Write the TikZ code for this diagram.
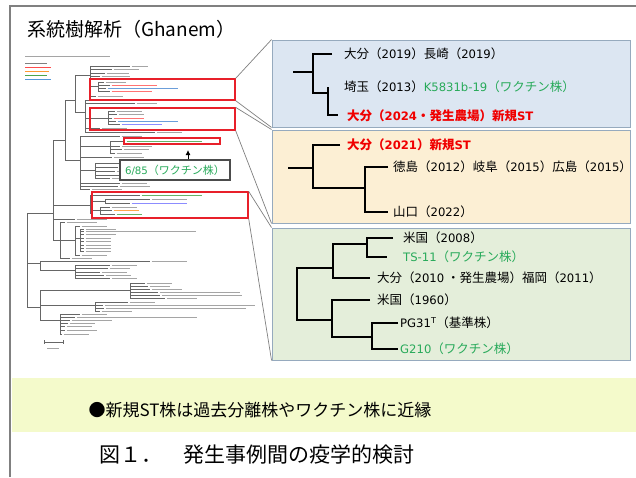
\documentclass[tikz,border=0pt]{standalone}
\usepackage{fontspec}
\setmainfont{Noto Sans CJK JP}
\newfontfamily\latfont[Scale=0.93]{DejaVu Sans}
\newcommand\ltn[1]{{\latfont #1}}
\usetikzlibrary{arrows.meta}
\definecolor{vgreen}{RGB}{40,170,90}
\definecolor{vred}{RGB}{240,0,0}
\definecolor{boxred}{RGB}{232,32,42}
\definecolor{pblue}{RGB}{220,230,242}
\definecolor{porange}{RGB}{252,239,212}
\definecolor{pgreen}{RGB}{228,238,218}
\definecolor{pborder}{RGB}{150,170,190}
\definecolor{band}{RGB}{244,250,203}
\definecolor{framegray}{RGB}{128,128,128}
\definecolor{lg}{RGB}{165,165,165}
\newcommand\lf[5]{\draw[br] (#1,#2) -- (#3,#2); \draw[lab,draw=#5] (#3+1.5,#2) -- ++(#4,0);}
\newcommand\vl[3]{\draw[br] (#1,#2) -- (#1,#3);}
\begin{document}
\begin{tikzpicture}[x=1pt,y=-1pt,
  br/.style={draw=black!60,line width=0.5pt},
  lab/.style={line width=0.8pt},
  ptree/.style={draw=black,line width=1.6pt},
  ptxt/.style={anchor=west,inner sep=0pt,font=\fontsize{12.5}{14}\selectfont},
  rtxt/.style={ptxt,text=vred,font=\fontsize{12.5}{14}\selectfont\bfseries},
  panel/.style={draw=pborder,line width=0.9pt,inner sep=0pt},
  redbox/.style={draw=boxred,line width=1.3pt,inner sep=0pt},
  conn/.style={draw=black!50,line width=0.7pt}]
\useasboundingbox (0,0) rectangle (636,477);
\fill[white] (0,0) rectangle (636,477);
% outer frame
\draw[framegray,line width=1.8pt] (10,477) -- (10,6) -- (636,6);
% title
\node[anchor=west,inner sep=0pt,font=\fontsize{19}{22}\selectfont] (title) at (27,29) {系統樹解析（Ghanem）};
% panels
\node[panel,fill=pblue,minimum width=358pt,minimum height=87pt] (pb) at (451,83.5) {};
\node[panel,fill=porange,minimum width=358pt,minimum height=93pt] (po) at (451,176.5) {};
\node[panel,fill=pgreen,minimum width=358pt,minimum height=132pt] (pg) at (451,294) {};
% band
\fill[band] (12,378) rectangle (636,432);
% ---------- small tree ----------
\draw[lab,draw=lg] (25,56) -- (110,56);
\draw[lab,draw=black!50] (25,63) -- ++(22,0);
\draw[lab,draw=red!70] (25,67) -- ++(26,0);
\draw[lab,draw=orange!80] (25,71) -- ++(24,0);
\draw[lab,draw=green!50!black!70] (25,75) -- ++(22,0);
\draw[lab,draw=cyan!60!blue!70] (25,79) -- ++(26,0);
\vl{27}{213}{307}
\draw[br] (27,213) -- (53,213);
\draw[br] (27,263) -- (40,263);
\draw[br] (27,307) -- (40,307);
\vl{53}{140}{240}
\draw[br] (53,140) -- (65,140);
\vl{65}{100}{160}
\draw[br] (65,100) -- (75,100);
\vl{75}{75}{112}
\draw[br] (75,75) -- (90,75);
\vl{90}{66}{96}
\lf{90}{66}{130}{16}{lg}
\lf{90}{69}{112}{25}{lg}
\lf{90}{73}{105}{22}{lg}
\lf{90}{76}{100}{28}{lg}
\draw[br] (90,86) -- (98,86);
\vl{98}{82}{91}
\lf{98}{82}{104}{20}{lg}
\lf{98}{85}{110}{45}{red!55}
\lf{98}{88}{106}{70}{cyan!55!blue!60}
\lf{98}{91}{110}{40}{red!55}
\lf{90}{96}{96}{25}{lg}
\draw[br] (75,112) -- (85,112);
\vl{85}{100}{132}
\lf{85}{100}{100}{25}{lg}
\lf{85}{103}{135}{20}{lg}
\draw[br] (85,118) -- (108,118);
\vl{108}{111}{124}
\lf{108}{111}{115}{25}{lg}
\lf{108}{114}{117}{25}{lg}
\lf{108}{118}{112}{30}{red!55}
\lf{108}{121}{116}{60}{cyan!55!blue!60}
\lf{108}{124}{120}{40}{blue!45}
\lf{85}{128}{100}{25}{lg}
\lf{85}{132}{155}{25}{lg}
\draw[br] (65,160) -- (80,160);
\vl{80}{136}{189}
\lf{80}{136}{120}{20}{lg}
\draw[br] (80,146) -- (110,146);
\vl{110}{141}{153}
\lf{110}{141}{125}{75}{green!50!black!60}
\lf{110}{146}{120}{30}{lg}
\lf{110}{149}{122}{25}{lg}
\lf{110}{153}{115}{25}{lg}
\lf{80}{157}{112}{30}{lg}
\draw[br] (80,170) -- (95,170);
\vl{95}{163}{178}
\foreach \yy/\xx/\ll in {163/120/30,167/118/25,171/115/30,175/120/25,178/110/30}{\lf{95}{\yy}{\xx}{\ll}{lg}}
\lf{80}{183}{120}{25}{lg}
\lf{80}{186}{118}{30}{lg}
\lf{80}{189}{90}{30}{lg}
\draw[br] (53,205) -- (90,205);
\vl{90}{195}{214}
\lf{90}{195}{140}{60}{green!50!black!60}
\draw[br] (90,201) -- (105,201);
\vl{105}{199}{203}
\lf{105}{199}{150}{35}{lg}
\lf{105}{203}{130}{55}{blue!45}
\draw[br] (90,210) -- (100,210);
\vl{100}{207}{214}
\lf{100}{207}{110}{25}{lg}
\lf{100}{210}{112}{25}{orange!70}
\lf{100}{214}{115}{25}{green!50!black!60}
\lf{53}{219}{75}{30}{lg}
\draw[br] (53,240) -- (60,240);
\vl{60}{222}{258}
\lf{60}{222}{65}{30}{lg}
\draw[br] (60,240) -- (75,240);
\vl{75}{226}{255}
\lf{75}{226}{80}{25}{lg}
\draw[br] (75,238) -- (80,238);
\vl{80}{229}{251}
\foreach \yy/\ll in {229/30,231/110,234/30,238/25,241/25,245/25,248/25,251/25}{\lf{80}{\yy}{84}{\ll}{lg}}
\lf{75}{255}{80}{25}{lg}
\lf{60}{258}{70}{20}{lg}
\vl{40}{261}{270}
\lf{40}{261}{150}{35}{lg}
\draw[br] (40,270) -- (75,270);
\vl{75}{265}{278}
\foreach \yy/\xx/\ll in {265/110/25,268/108/20,272/100/25,275/104/25,278/110/25}{\lf{75}{\yy}{\xx}{\ll}{lg}}
\vl{40}{290}{320}
\draw[br] (40,290) -- (130,290);
\vl{130}{283}{298}
\foreach \yy/\xx/\ll in {283/145/25,286/148/20,289/150/30,292/158/80,295/160/80,298/165/30}{\lf{130}{\yy}{\xx}{\ll}{lg}}
\draw[br] (40,305) -- (95,305);
\vl{95}{302}{311}
\foreach \yy/\xx/\ll in {302/128/25,305/103/150,308/104/140,311/100/30}{\lf{95}{\yy}{\xx}{\ll}{lg}}
\draw[br] (40,320) -- (60,320);
\vl{60}{314}{334}
\foreach \yy/\xx/\ll in {314/80/25,317/75/120,320/70/40,323/68/25,326/65/25,330/65/30,334/62/25}{\lf{60}{\yy}{\xx}{\ll}{lg}}
\draw[br] (44,342) -- (63,342) (44,340) -- (44,344) (63,340) -- (63,344);
\draw[lab,draw=lg] (47,348) -- ++(12,0);
% red boxes
\node[redbox,minimum width=145pt,minimum height=21pt] (rb1) at (162.5,89.5) {};
\node[redbox,minimum width=145pt,minimum height=22pt] (rb2) at (162.5,119) {};
\node[redbox,minimum width=96pt,minimum height=6pt] (rb3) at (172,141) {};
\node[redbox,minimum width=156pt,minimum height=26pt] (rb4) at (170,205) {};
% vaccine box
\node[draw=black!70,line width=1.2pt,fill=white,minimum width=110pt,minimum height=20pt,inner sep=0pt,text=vgreen,font=\fontsize{11}{13}\selectfont] (vac) at (175,170) {\ltn{6/85}（ワクチン株）};
\coordinate (arrtip) at (188,150);
\draw[line width=0.9pt,-{Latex[length=5pt,width=5pt]}] ([xshift=13pt]vac.north) -- (arrtip);
% connectors
\draw[conn] (rb1.north east) -- (pb.north west);
\draw[conn] (rb1.south east) -- (pb.south west);
\draw[conn] (rb2.north east) -- (po.north west);
\draw[conn] (rb2.south east) -- (po.south west);
\draw[conn] (rb4.north east) -- (pg.north west);
\draw[conn] (rb4.south east) -- (pg.south west);
% ---------- blue panel ----------
\draw[ptree] (293,72) -- (313,72);
\draw[ptree] (332,54) -- (313,54) -- (313,93) -- (328,93);
\draw[ptree] (328,87) -- (328,115) -- (338,115);
\node[ptxt] (b1) at (344,54) {大分（\ltn{2019}）長崎（\ltn{2019}）};
\node[ptxt] (b2) at (344,87) {埼玉（\ltn{2013}）\textcolor{vgreen}{\ltn{K5831b-19}（ワクチン株）}};
\node[rtxt] (b3) at (347,116) {大分（\ltn{2024}・発生農場）新規\ltn{ST}};
% ---------- orange panel ----------
\draw[ptree] (288,168) -- (313,168);
\draw[ptree] (340,145) -- (313,145) -- (313,188) -- (365,188);
\draw[ptree] (388,167) -- (365,167) -- (365,212) -- (388,212);
\node[rtxt] (o1) at (347,145) {大分（\ltn{2021}）新規\ltn{ST}};
\node[ptxt] (o2) at (393,167) {徳島（\ltn{2012}）岐阜（\ltn{2015}）広島（\ltn{2015}）};
\node[ptxt] (o3) at (393,212) {山口（\ltn{2022}）};
% ---------- green panel ----------
\draw[ptree] (333,268) -- (297,268) -- (297,320) -- (332,320);
\draw[ptree] (367,244) -- (333,244) -- (333,278) -- (370,278);
\draw[ptree] (393,238) -- (367,238) -- (367,257) -- (387,257);
\draw[ptree] (370,300) -- (332,300) -- (332,337) -- (372,337);
\draw[ptree] (398,323) -- (372,323) -- (372,349) -- (398,349);
\node[ptxt] (g1) at (403,238) {米国（\ltn{2008}）};
\node[ptxt,text=vgreen] (g2) at (403,257) {\ltn{TS-11}（ワクチン株）};
\node[ptxt] (g3) at (377,278) {大分（\ltn{2010} ・発生農場）福岡（\ltn{2011}）};
\node[ptxt] (g4) at (377,300) {米国（\ltn{1960}）};
\node[ptxt] (g5) at (400,323) {\ltn{PG31\textsuperscript{T}}（基準株）};
\node[ptxt,text=vgreen] (g6) at (400,349) {\ltn{G210}（ワクチン株）};
% ---------- bottom ----------
\node[inner sep=0pt,font=\fontsize{17}{20}\selectfont] (summary) at (260,410) {●新規ST株は過去分離株やワクチン株に近縁};
\node[inner sep=0pt,font=\fontsize{21}{24}\selectfont] (caption) at (257,455) {図１．　発生事例間の疫学的検討};
\end{tikzpicture}
\end{document}
